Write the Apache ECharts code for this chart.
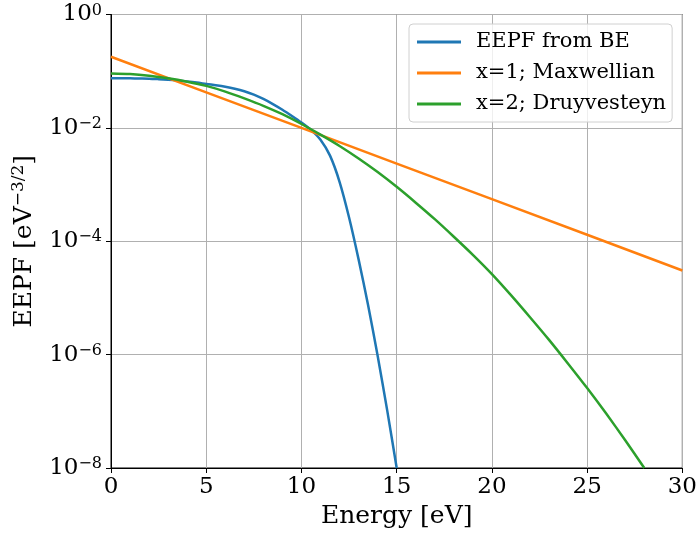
<!DOCTYPE html>
<html>
<head>
<meta charset="utf-8">
<script src="https://cdn.jsdelivr.net/npm/echarts@6/dist/echarts.min.js"></script>
<style>html,body{margin:0;padding:0;background:#fff;}#c{width:700px;height:535px;}</style>
</head>
<body>
<div id="c"></div>
<script>
var seriesNames = ['EEPF from BE', 'x=1; Maxwellian', 'x=2; Druyvesteyn'];
var colors = ['#1f77b4', '#ff7f0e', '#2ca02c'];

var beEnergy = [0, 0.5, 1, 1.5, 2, 2.5, 3, 3.5, 4, 4.5, 5, 5.5, 6, 6.5, 7, 7.5, 8, 8.5, 9, 9.5, 10, 10.5, 11, 11.5, 12, 12.5, 13, 13.5, 14, 14.5, 15];
var beValues = [0.0750, 0.0750, 0.0748, 0.0743, 0.0738, 0.0724, 0.0708, 0.0687, 0.0661, 0.0631, 0.0596, 0.0565, 0.0531, 0.0490, 0.0442, 0.0386, 0.0324, 0.0263, 0.0209, 0.0162, 0.0124, 0.00923, 0.00617, 0.00324, 0.00112, 2.63e-4, 4.79e-5, 7.41e-6, 9.55e-7, 1.05e-7, 1.0e-8];

var maxEnergy = [0, 5, 10, 15, 20, 25, 30];
var maxValues = [1.80e-1, 4.24e-2, 9.98e-3, 2.34e-3, 5.52e-4, 1.30e-4, 3.05e-5];

var druEnergy = [0, 1, 2, 3, 4, 5, 6, 7, 8, 9, 10, 11, 12, 13, 14, 15, 16, 17, 18, 19, 20, 21, 22, 23, 24, 25, 26, 27, 28];
var druValues = [0.0912, 0.0891, 0.0832, 0.0750, 0.0653, 0.0550, 0.0437, 0.0331, 0.0245, 0.0174, 0.0117, 0.00759, 0.00479, 0.00288, 0.00166, 9.12e-4, 4.79e-4, 2.45e-4, 1.20e-4, 5.75e-5, 2.63e-5, 1.12e-5, 4.57e-6, 1.82e-6, 6.92e-7, 2.57e-7, 9.12e-8, 3.09e-8, 1.0e-8];

var yMin = 1e-8, yMax = 1;

function pairs(xs, ys) { return xs.map(function (x, i) { return [x, ys[i]]; }); }

var FONT = '"DejaVu Serif", serif';
var chart = echarts.init(document.getElementById('c'), null, {renderer: 'canvas'});

function mkSeries(i, xs, ys, sm) {
  return {
    name: seriesNames[i], type: 'line', data: pairs(xs, ys),
    showSymbol: false, smooth: sm,
    lineStyle: {color: colors[i], width: 2.5, join: 'round'}, itemStyle: {color: colors[i]},
    clip: true, animation: false
  };
}

chart.setOption({
  animation: false,
  backgroundColor: '#fff',
  grid: {left: 111, right: 17, top: 14.5, bottom: 67, show: true, borderColor: '#000', borderWidth: 1, backgroundColor: 'transparent'},
  legend: {
    orient: 'vertical', left: 409, top: 24,
    data: seriesNames.map(function (n, i) { return {name: n, icon: 'rect', itemStyle: {color: colors[i]}}; }),
    itemWidth: 44, itemHeight: 3, itemGap: 7,
    backgroundColor: 'rgba(255,255,255,0.8)', borderColor: '#d0d0d0', borderWidth: 1, borderRadius: 4,
    padding: [6, 6, 6, 8],
    textStyle: {fontFamily: FONT, fontSize: 21, color: '#000', lineHeight: 24, padding: [0, 0, 0, 10]}
  },
  xAxis: {
    type: 'value', min: 0, max: 30, interval: 5,
    name: 'Energy [eV]', nameLocation: 'middle', nameGap: 35,
    nameTextStyle: {fontFamily: FONT, fontSize: 25, color: '#000'},
    axisLine: {show: true, onZero: false, lineStyle: {color: '#000', width: 1}},
    axisTick: {show: true, inside: false, length: 5, lineStyle: {color: '#000'}},
    axisLabel: {fontFamily: FONT, fontSize: 23, color: '#000', margin: 8},
    splitLine: {show: true, lineStyle: {color: '#b0b0b0', width: 1}}
  },
  yAxis: {
    type: 'log', logBase: 10, min: yMin, max: yMax, interval: 2,
    name: 'EEPF [eV{s|−3/2}]', nameLocation: 'middle', nameGap: 72, nameRotate: 90,
    nameTextStyle: {fontFamily: FONT, fontSize: 25, color: '#000', lineHeight: 28,
      rich: {s: {fontFamily: FONT, fontSize: 17, verticalAlign: 'top', lineHeight: 14, color: '#000'}}},
    axisLine: {show: true, onZero: false, lineStyle: {color: '#000', width: 1}},
    axisTick: {show: true, inside: false, length: 5, lineStyle: {color: '#000'}},
    minorTick: {show: false},
    axisLabel: {
      margin: 9,
      formatter: function (v) {
        var e = Math.round(Math.log10(v));
        var s = e < 0 ? '−' + (-e) : String(e);
        return '{b|10}{s|' + s + '}';
      },
      rich: {
        b: {fontFamily: FONT, fontSize: 23, color: '#000', lineHeight: 24},
        s: {fontFamily: FONT, fontSize: 16, color: '#000', verticalAlign: 'top', lineHeight: 12}
      }
    },
    splitLine: {show: true, lineStyle: {color: '#b0b0b0', width: 1}}
  },
  series: [
    mkSeries(0, beEnergy, beValues, 0.25),
    mkSeries(1, maxEnergy, maxValues, false),
    mkSeries(2, druEnergy, druValues, 0.25)
  ]
});
</script>
</body>
</html>
